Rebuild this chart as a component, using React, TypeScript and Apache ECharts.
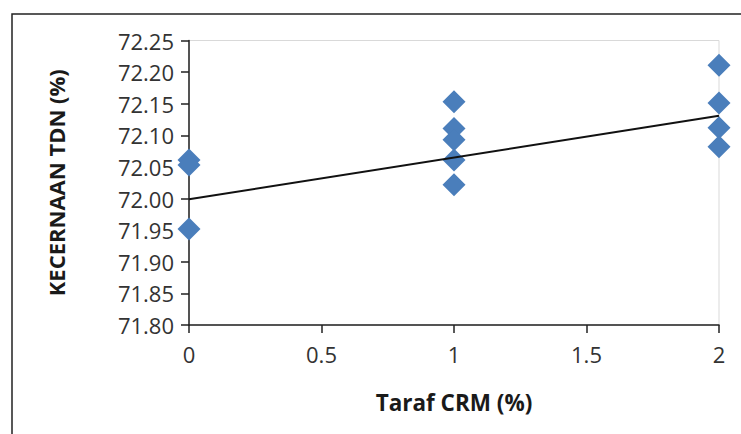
import React, { useEffect, useRef } from "react";
import * as echarts from "echarts";

const xTicks = [0, 0.5, 1, 1.5, 2];
const level0 = [72.061, 72.053, 71.952];
const level1 = [72.153, 72.111, 72.093, 72.061, 72.022];
const level2 = [72.211, 72.151, 72.112, 72.082];
const trendX = [0, 2];
const trendY = [71.999, 72.131];

export default function App() {
  const ref = useRef<HTMLDivElement>(null);
  useEffect(() => {
    if (!ref.current) return;
    const chart = echarts.init(ref.current, null, { renderer: "svg" });
    const points: number[][] = [
      ...level0.map((v) => [0, v]),
      ...level1.map((v) => [1, v]),
      ...level2.map((v) => [2, v]),
    ];
    const font = "'Open Sans', sans-serif";
    chart.setOption({
      animation: false,
      backgroundColor: "#ffffff",
      grid: {
        left: 189,
        right: 22,
        top: 40.5,
        bottom: 109,
        show: true,
        borderColor: "#d9d9d9",
        borderWidth: 1,
      },
      graphic: [
        {
          type: "rect",
          shape: { x: 12, y: 14, width: 760, height: 460 },
          style: { fill: "none", stroke: "#222", lineWidth: 1.5 },
          silent: true,
        },
      ],
      xAxis: {
        type: "value",
        min: 0,
        max: 2,
        interval: 0.5,
        name: "Taraf CRM (%)",
        nameLocation: "middle",
        nameGap: 66,
        nameTextStyle: { fontFamily: font, fontWeight: "bold", fontSize: 22.5, color: "#1a1a1a" },
        axisLine: { show: true, onZero: false, lineStyle: { color: "#222", width: 1.5 } },
        axisTick: { show: true, length: 8, lineStyle: { color: "#222", width: 1.5 } },
        axisLabel: {
          fontFamily: font,
          fontSize: 22,
          color: "#333",
          margin: 18,
          formatter: (v: number) => String(v),
        },
        splitLine: { show: false },
      },
      yAxis: {
        type: "value",
        min: 71.8,
        max: 72.25,
        interval: 0.05,
        name: "KECERNAAN TDN (%)",
        nameLocation: "middle",
        nameGap: 122,
        nameTextStyle: { fontFamily: font, fontWeight: "bold", fontSize: 22, color: "#1a1a1a" },
        axisLine: { show: true, onZero: false, lineStyle: { color: "#222", width: 1.5 } },
        axisTick: { show: true, length: 8, lineStyle: { color: "#222", width: 1.5 } },
        axisLabel: {
          fontFamily: font,
          fontSize: 22,
          color: "#333",
          margin: 15,
          formatter: (v: number) => v.toFixed(2),
        },
        splitLine: { show: false },
      },
      series: [
        {
          type: "scatter",
          data: points,
          symbol: "diamond",
          symbolSize: 23,
          itemStyle: { color: "#4a7ebb", opacity: 1 },
          z: 3,
        },
        {
          type: "line",
          data: trendX.map((x, i) => [x, trendY[i]]),
          symbol: "none",
          lineStyle: { color: "#111", width: 2 },
          z: 4,
        },
      ],
    });
    return () => chart.dispose();
  }, []);
  return <div ref={ref} style={{ width: 741, height: 434, position: "absolute", left: 0, top: 0 }} />;
}
